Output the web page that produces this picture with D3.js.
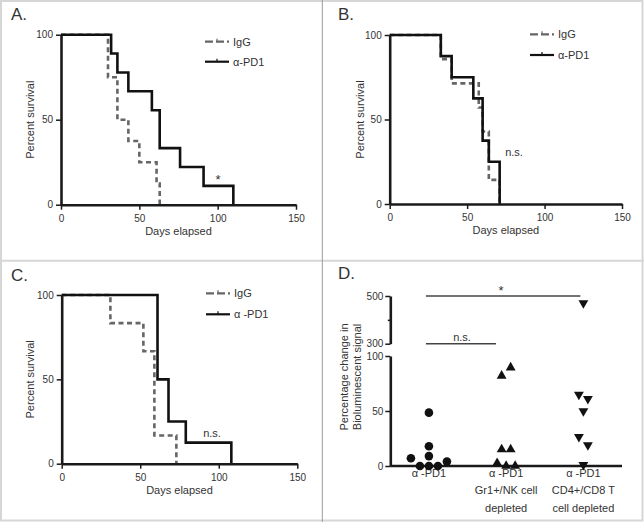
<!DOCTYPE html>
<html><head><meta charset="utf-8">
<script src="https://cdn.jsdelivr.net/npm/d3@7"></script>
<style>
body{margin:0;background:#fff}
svg{display:block}
text{font-family:"Liberation Sans",Arial,sans-serif;fill:#333}
</style>
</head><body>
<svg id="c" width="644" height="522"></svg>
<script>
// ---------- data ----------
const survTicksX = [0, 50, 100, 150];
const survTicksY = [0, 50, 100];
const seriesNames = ["IgG", "α-PD1"];

const aIggDays = [0, 30, 36, 43, 50, 61, 63];
const aIggSurv = [100, 75, 50, 37.5, 25, 12.5, 0];
const aPd1Days = [0, 32, 36, 43, 58, 63, 76, 91, 110];
const aPd1Surv = [100, 88.9, 77.8, 66.7, 55.6, 33.3, 22.2, 11.1, 0];

const bIggDays = [0, 33, 40, 57.5, 60, 64, 71];
const bIggSurv = [100, 85.7, 71.4, 57.1, 42.9, 14.3, 0];
const bPd1Days = [0, 33, 40, 54, 60, 64, 71];
const bPd1Surv = [100, 87.5, 75, 62.5, 37.5, 25, 0];

const cIggDays = [0, 31, 52, 59, 73];
const cIggSurv = [100, 83.3, 66.7, 16.7, 0];
const cPd1Days = [0, 61, 68, 79, 108];
const cPd1Surv = [100, 50, 25, 12.5, 0];

const dCategories = [["α -PD1"], ["α -PD1", "Gr1+/NK cell", "depleted"], ["α -PD1", "CD4+/CD8 T", "cell depleted"]];
const dGroup1 = [7, 0, 18, 0, 48.5, 9, 0, 4];
const dGroup2 = [2.5, 82, 15, 0, 89.5, 15, 0];
const dGroup3 = [65, 26.6, 470, 50, 1, 61, 19];
const dLowTicks = [0, 50, 100];
const dHighTicks = [300, 400, 500];

// ---------- frame ----------
const svg = d3.select("#c");
svg.append("rect").attr("x", 1).attr("y", 1).attr("width", 641.5).attr("height", 519.5)
  .attr("fill", "none").attr("stroke", "#d6d6d6").attr("stroke-width", 2);
svg.append("line").attr("x1", 0).attr("x2", 644).attr("y1", 260.7).attr("y2", 260.7)
  .attr("stroke", "#d6d6d6").attr("stroke-width", 2);
svg.append("line").attr("x1", 322.3).attr("x2", 322.3).attr("y1", 0).attr("y2", 522)
  .attr("stroke", "#9a9a9a").attr("stroke-width", 1);

function styleAxis(g) {
  g.select(".domain").attr("stroke", "#1a1a1a").attr("stroke-width", 2.6);
  g.selectAll(".tick line").attr("stroke", "#1a1a1a").attr("stroke-width", 1.5);
  g.selectAll(".tick text").attr("font-size", 10).attr("fill", "#444")
    .attr("font-family", '"Liberation Sans",Arial,sans-serif');
}

function survivalPanel(o) {
  const x = d3.scaleLinear().domain([0, 150]).range([o.x0, o.x1]);
  const y = d3.scaleLinear().domain([0, 100]).range([o.y0, o.y1]);
  const g = svg.append("g");
  g.append("text").attr("x", o.lx).attr("y", o.ly).attr("font-size", 17).text(o.label);

  const line = d3.line().x(d => x(d[0])).y(d => y(d[1])).curve(d3.curveStepAfter);
  g.append("path").datum(d3.zip(o.iggDays, o.iggSurv)).attr("d", line)
    .attr("fill", "none").attr("stroke", "#666").attr("stroke-width", 2.6).attr("stroke-dasharray", "5,3.5");
  g.append("path").datum(d3.zip(o.pd1Days, o.pd1Surv)).attr("d", line)
    .attr("fill", "none").attr("stroke", "#111").attr("stroke-width", 2.6);

  const gx = g.append("g").attr("transform", `translate(0,${o.y0})`)
    .call(d3.axisBottom(x).tickValues(survTicksX).tickSize(5).tickPadding(5).tickSizeOuter(0));
  styleAxis(gx);
  const gy = g.append("g").attr("transform", `translate(${o.x0},0)`)
    .call(d3.axisLeft(y).tickValues(survTicksY).tickSize(5).tickPadding(3).tickSizeOuter(0));
  styleAxis(gy);

  g.append("text").attr("x", (o.x0 + o.x1) / 2).attr("y", o.y0 + 30).attr("text-anchor", "middle")
    .attr("font-size", 11).text("Days elapsed");
  g.append("text").attr("transform", `translate(${o.ylx},${(o.y0 + o.y1) / 2}) rotate(-90)`)
    .attr("text-anchor", "middle").attr("font-size", 11).text("Percent survival");

  // legend
  const lg = g.append("g");
  seriesNames.forEach((nm, i) => {
    const ly = o.legY + i * o.legGap;
    lg.append("line").attr("x1", o.legX).attr("x2", o.legX + 24).attr("y1", ly).attr("y2", ly)
      .attr("stroke", i === 0 ? "#666" : "#111").attr("stroke-width", 2.2)
      .attr("stroke-dasharray", i === 0 ? "8,3" : null);
    lg.append("line").attr("x1", o.legX + 12).attr("x2", o.legX + 12).attr("y1", ly - 3).attr("y2", ly)
      .attr("stroke", i === 0 ? "#666" : "#111").attr("stroke-width", 1.2);
    lg.append("text").attr("x", o.legX + 28).attr("y", ly + 4).attr("font-size", 11)
      .text(i === 1 ? o.pd1Name : nm);
  });
  g.append("text").attr("x", o.annX).attr("y", o.annY).attr("text-anchor", "middle")
    .attr("font-size", o.ann === "*" ? 13 : 11).text(o.ann);
}

survivalPanel({label: "A.", lx: 11, ly: 20, x0: 61, x1: 296, y0: 204.7, y1: 34.7, ylx: 34,
  iggDays: aIggDays, iggSurv: aIggSurv, pd1Days: aPd1Days, pd1Surv: aPd1Surv,
  legX: 205, legY: 41.7, legGap: 20, pd1Name: "α-PD1", ann: "*", annX: 218, annY: 184});
survivalPanel({label: "B.", lx: 338, ly: 20, x0: 389.7, x1: 622, y0: 204, y1: 35, ylx: 364,
  iggDays: bIggDays, iggSurv: bIggSurv, pd1Days: bPd1Days, pd1Surv: bPd1Surv,
  legX: 530, legY: 34.3, legGap: 20.7, pd1Name: "α-PD1", ann: "n.s.", annX: 514, annY: 156});
survivalPanel({label: "C.", lx: 11, ly: 281, x0: 61.7, x1: 297.3, y0: 463.7, y1: 295, ylx: 34,
  iggDays: cIggDays, iggSurv: cIggSurv, pd1Days: cPd1Days, pd1Surv: cPd1Surv,
  legX: 206, legY: 293.3, legGap: 21, pd1Name: "α -PD1", ann: "n.s.", annX: 212, annY: 437});

// ---------- panel D ----------
(function () {
  const g = svg.append("g");
  g.append("text").attr("x", 338).attr("y", 279).attr("font-size", 17).text("D.");
  const xD = d3.scalePoint().domain(d3.range(dCategories.length)).range([390.3, 622]).padding(0.5);
  const yLow = d3.scaleLinear().domain([0, 100]).range([466, 356]);
  const yHigh = d3.scaleLinear().domain([300, 500]).range([343.7, 296]);
  const yVal = v => v <= 100 ? yLow(v) : yHigh(v);

  const gl = g.append("g").attr("transform", "translate(390.3,0)")
    .call(d3.axisLeft(yLow).tickValues(dLowTicks).tickSize(5).tickPadding(2).tickSizeOuter(0));
  styleAxis(gl);
  const gh = g.append("g").attr("transform", "translate(390.3,0)")
    .call(d3.axisLeft(yHigh).tickValues(dHighTicks).tickSize(5).tickPadding(2).tickSizeOuter(0)
      .tickFormat(d => d === 400 ? "" : d));
  styleAxis(gh);
  gh.selectAll(".tick").filter(d => d === 400).select("line").attr("x2", -2.5);

  const gxD = g.append("g").attr("transform", "translate(0,466)")
    .call(d3.axisBottom(xD).tickSize(0).tickFormat("").tickSizeOuter(0));
  styleAxis(gxD);
  gxD.select(".domain").attr("d", "M390.3,0H622");

  dCategories.forEach((lines, i) => {
    const t = g.append("text").attr("text-anchor", "middle").attr("font-size", 11);
    lines.forEach((s, j) => t.append("tspan").attr("x", xD(i)).attr("y", 477 + j * 17.3).text(s));
  });

  const yl = g.append("text").attr("transform", "translate(347.5,377) rotate(-90)")
    .attr("text-anchor", "middle").attr("font-size", 11);
  yl.append("tspan").attr("x", 0).attr("y", 0).text("Percentage change in");
  yl.append("tspan").attr("x", 0).attr("y", 13.5).text("Bioluminescent signal");

  // swarm layout: bin points with near-equal pixel height, spread symmetrically
  function swarm(vals) {
    const idx = d3.range(vals.length).sort((a, b) => vals[a] - vals[b]);
    const out = new Array(vals.length).fill(0);
    let bin = [];
    const flush = () => {
      bin.sort((a, b) => a - b);
      bin.forEach((k, j) => out[k] = (j - (bin.length - 1) / 2) * 9);
      bin = [];
    };
    idx.forEach(k => {
      if (bin.length && Math.abs(yVal(vals[k]) - yVal(vals[bin[0]])) >= 9) flush();
      bin.push(k);
    });
    flush();
    return out;
  }

  const groups = [dGroup1, dGroup2, dGroup3];
  const tri = d3.symbol().type(d3.symbolTriangle).size(42)();
  groups.forEach((vals, gi) => {
    const offs = swarm(vals);
    vals.forEach((v, k) => {
      const cx = xD(gi) + offs[k], cy = yVal(v);
      if (gi === 0) {
        g.append("circle").attr("cx", cx).attr("cy", cy).attr("r", 4.3).attr("fill", "#111");
      } else {
        g.append("path").attr("d", tri).attr("fill", "#111")
          .attr("transform", `translate(${cx},${cy})` + (gi === 2 ? " rotate(180)" : ""));
      }
    });
  });

  // significance bars
  g.append("line").attr("x1", xD(0) - 3).attr("x2", xD(2) - 3).attr("y1", yHigh(500)).attr("y2", yHigh(500))
    .attr("stroke", "#444").attr("stroke-width", 1.5);
  g.append("text").attr("x", 501).attr("y", 295).attr("text-anchor", "middle").attr("font-size", 13).text("*");
  g.append("line").attr("x1", xD(0) - 3).attr("x2", 496).attr("y1", yHigh(300)).attr("y2", yHigh(300))
    .attr("stroke", "#444").attr("stroke-width", 1.5);
  g.append("text").attr("x", 462).attr("y", 340.5).attr("text-anchor", "middle").attr("font-size", 11).text("n.s.");
})();
</script>
</body></html>
